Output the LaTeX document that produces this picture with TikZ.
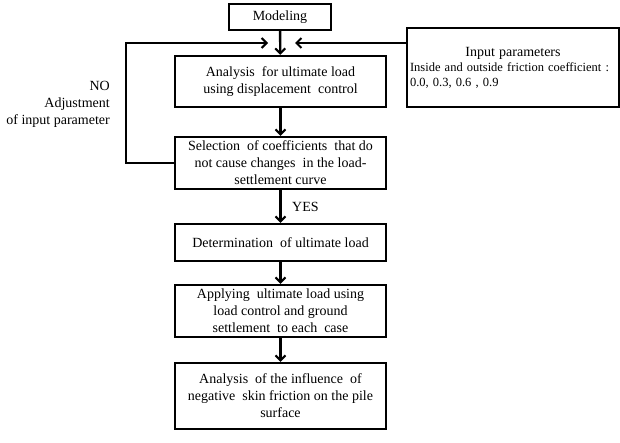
\documentclass[tikz,border=0pt]{standalone}
\usepackage{fontspec}
\setmainfont{Liberation Serif}
\usetikzlibrary{arrows.meta}

\begin{document}
\begin{tikzpicture}[
		x=1pt, y=-1pt,
		every node/.style={font=\fontsize{14}{17}\selectfont},
		stepbox/.style={rectangle, draw, line width=2.4pt, align=center, minimum width=211pt, inner sep=2pt},
		flow/.style={line width=2.4pt, -{Straight Barb[length=5pt, width=10pt, line width=2pt]}}
	]
  \useasboundingbox (0,0) rectangle (620,443);
  \node (model) [stepbox, minimum width=102pt, minimum height=26pt] at (280, 17) {Modeling};
  \node (anal) [stepbox, minimum height=51pt] at (280.5, 81.5) {Analysis \ for ultimate load\\using displacement \ control};
  \node (sel) [stepbox, minimum height=52pt] at (280.5, 163) {Selection \ of coefficients \ that do\\not cause changes \ in the load-\\settlement curve};
  \node (det) [stepbox, minimum height=37pt] at (280.5, 242.5) {Determination \ of ultimate load};
  \node (appl) [stepbox, minimum height=52pt] at (280.5, 311) {Applying \ ultimate load using\\load control and ground\\settlement \ to each \ case};
  \node (infl) [stepbox, minimum height=66pt] at (280.5, 396) {Analysis \ of the influence \ of\\negative \ skin friction on the pile\\surface};
  \node (input) [stepbox, minimum width=212pt, minimum height=79pt, align=left, text width=206pt, font=\fontsize{12.5}{15}\selectfont] at (513, 67.5)
    {\makebox[\linewidth]{\fontsize{14}{17}\selectfont Input parameters}\\Inside and outside friction coefficient :\\0.0, 0.3, 0.6 , 0.9};
  \node (no) [anchor=east, align=right, inner sep=0pt] at (110, 104) {NO\\Adjustment\\of input parameter};
  \node (yes) [anchor=west, inner sep=0pt] at (292, 207) {YES};
  \coordinate (join) at (280, 43);
  \coordinate (lft) at (268, 43);
  \coordinate (rgt) at (295, 43);
  \draw [flow] (model) -- (anal);
  \draw [flow] (sel.west) -- (126, 163) -- (126, 43) -- (lft);
  \draw [flow] (input.west |- join) -- (rgt);
  \draw [flow] (anal) -- (sel);
  \draw [flow] (sel) -- (det);
  \draw [flow] (det) -- (appl);
  \draw [flow] (appl) -- (infl);
\end{tikzpicture}
\end{document}
